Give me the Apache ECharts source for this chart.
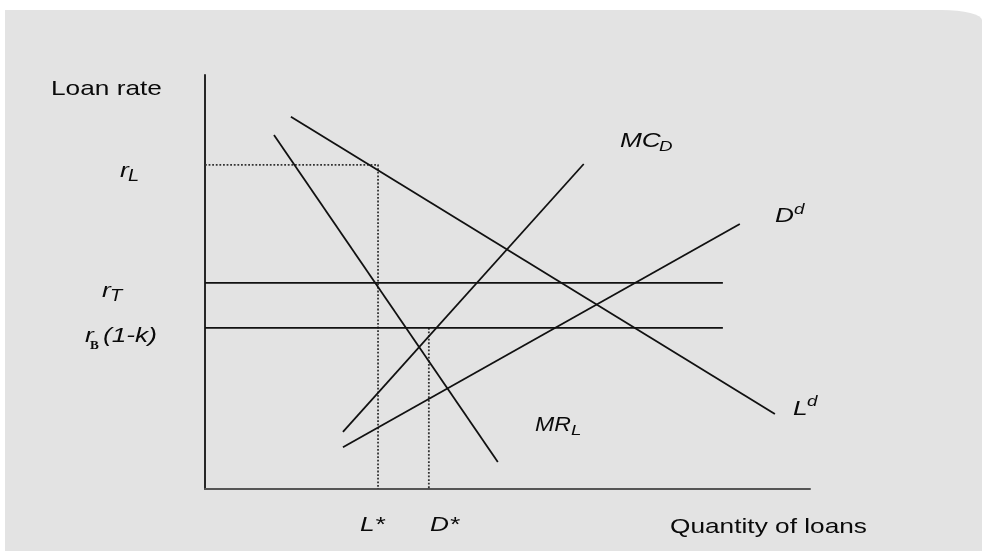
<!DOCTYPE html>
<html>
<head>
<meta charset="utf-8">
<script src="https://cdn.jsdelivr.net/npm/echarts@6/dist/echarts.min.js"></script>
<style>
  html, body { margin: 0; padding: 0; background: #fff; }
  #bg {
    position: absolute; left: 5px; top: 10px; right: 0; bottom: 0;
    background: #e3e3e3; border-top-right-radius: 40px 10px;
  }
  #main { position: absolute; left: 0; top: 0; width: 982px; height: 551px; }
</style>
</head>
<body>
<div id="bg"></div>
<div id="main"></div>
<script>
// curve end points, [quantity, rate] on a 0-100 scale
var loanDemand = [[14.2, 89.9], [94.2, 18.1]];          // L^d
var marginalRevenue = [[11.4, 85.5], [48.4, 6.5]];      // MR_L
var marginalCostDeposits = [[22.8, 13.8], [62.6, 78.5]]; // MC_D
var depositSupply = [[22.8, 10.1], [88.4, 64.0]];        // D^d

// rates and quantities
var rateL = 78.3;
var rateT = 49.8;
var rateB = 38.9;
var lStar = 28.6;
var dStar = 37.0;
var flatEnd = 85.6;

var myChart = echarts.init(document.getElementById('main'), null, { renderer: 'canvas' });

var ink = '#111';
var fam = '"Liberation Sans", Arial, sans-serif';

function lineSeries(name, data, style) {
  return {
    name: name,
    type: 'line',
    data: data,
    symbol: 'none',
    silent: true,
    animation: false,
    lineStyle: style || { color: ink, width: 1.8 }
  };
}

// text helper: x = left, y = vertical middle (scan text is a bit wide, hence scaleX)
function txt(s, x, y, font, sx) {
  return {
    type: 'text',
    x: x,
    y: y,
    scaleX: sx || 1.25,
    silent: true,
    style: {
      text: s,
      font: font,
      fill: '#0a0a0a',
      textAlign: 'left',
      textVerticalAlign: 'middle'
    }
  };
}

var big = 'italic 21px ' + fam;
var small = 'italic 15px ' + fam;
var sub16 = 'italic 16px ' + fam;
var plain = '21px ' + fam;

var dotted = { color: '#333', width: 1.8, type: 'dotted' };

var option = {
  backgroundColor: 'transparent',
  animation: false,
  grid: { left: 205, right: 172, top: 75, bottom: 62 },
  xAxis: {
    type: 'value',
    min: 0,
    max: 100,
    axisLine: { show: true, lineStyle: { color: '#555', width: 2 } },
    axisTick: { show: false },
    axisLabel: { show: false },
    splitLine: { show: false }
  },
  yAxis: {
    type: 'value',
    min: 0,
    max: 100,
    axisLine: { show: true, lineStyle: { color: '#111', width: 1.8 } },
    axisTick: { show: false },
    axisLabel: { show: false },
    splitLine: { show: false }
  },
  series: [
    lineSeries('rL', [[0, rateL], [lStar, rateL], [lStar, 0]], dotted),
    lineSeries('D*', [[dStar, rateB], [dStar, 0]], dotted),
    lineSeries('rT', [[0, rateT], [flatEnd, rateT]]),
    lineSeries('rB', [[0, rateB], [flatEnd, rateB]]),
    lineSeries('Ld', loanDemand),
    lineSeries('MRL', marginalRevenue),
    lineSeries('MCD', marginalCostDeposits),
    lineSeries('Dd', depositSupply)
  ],
  graphic: [
    txt('Loan rate', 51, 89, plain),
    txt('Quantity of loans', 670, 527, plain),

    txt('r', 120, 171, big),
    txt('L', 128, 177, sub16),

    txt('r', 102, 291, big),
    txt('T', 110, 297, sub16),

    txt('r', 85, 336, big),
    txt('B', 90, 346, 'bold 12px "Liberation Serif", serif', 1.1),
    txt('(1-k)', 103, 336, big),

    txt('L*', 360, 525, big),
    txt('D*', 430, 525, big),

    txt('MC', 620, 141, big),
    txt('D', 659, 147, small),

    txt('MR', 535, 425, big, 1.1),
    txt('L', 571, 431, small),

    txt('L', 793, 409, big),
    txt('d', 807, 402, small),

    txt('D', 775, 216, big),
    txt('d', 794, 210, small)
  ]
};

myChart.setOption(option);
window.addEventListener('resize', myChart.resize);
</script>
</body>
</html>
